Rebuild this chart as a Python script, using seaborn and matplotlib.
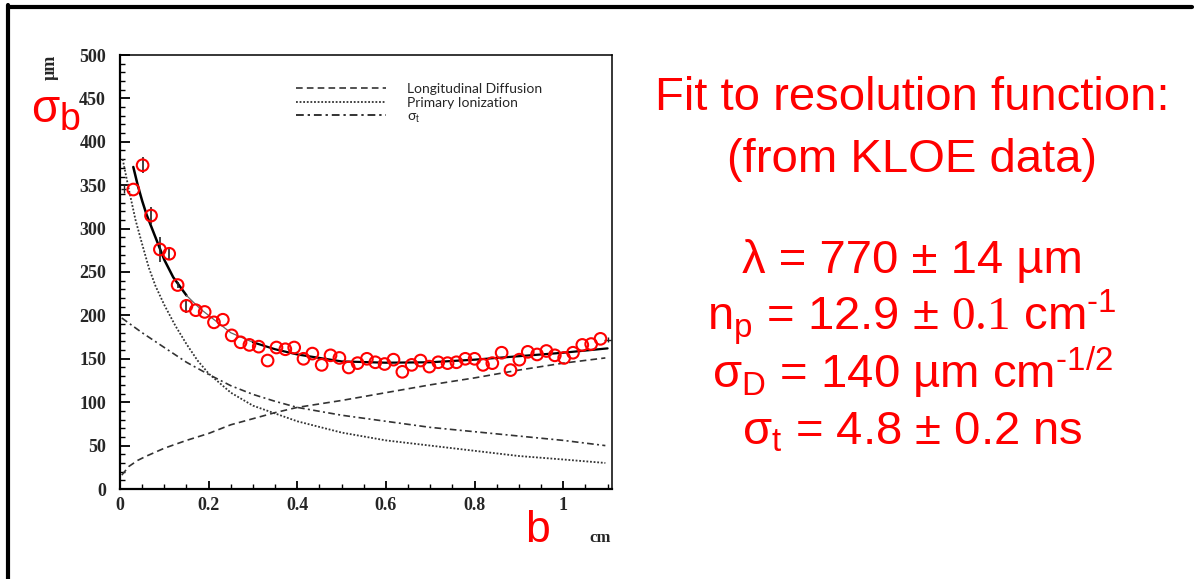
import matplotlib
matplotlib.use("Agg")
import matplotlib.pyplot as plt
from matplotlib.lines import Line2D
from matplotlib.ticker import MultipleLocator
import seaborn as sns

# measured resolution points (b in cm, sigma_b in um)
b_data = [0.030, 0.051, 0.070, 0.090, 0.111, 0.130, 0.150, 0.171, 0.191, 0.212,
          0.232, 0.252, 0.272, 0.292, 0.313, 0.333, 0.353, 0.373, 0.393, 0.414,
          0.434, 0.455, 0.475, 0.495, 0.516, 0.536, 0.557, 0.576, 0.597, 0.617,
          0.637, 0.658, 0.678, 0.698, 0.718, 0.739, 0.759, 0.779, 0.800, 0.819,
          0.840, 0.861, 0.881, 0.901, 0.920, 0.941, 0.962, 0.981, 1.002, 1.022,
          1.043, 1.063, 1.084]
sigma_data = [345, 373, 315, 276, 271, 235, 211, 206, 204, 192,
              195, 177, 169, 166, 164, 148, 163, 161, 163, 150,
              156, 143, 154, 151, 140, 145, 150, 146, 144, 149,
              135, 143, 148, 141, 146, 145, 146, 150, 150, 143,
              145, 157, 137, 149, 158, 155, 159, 154, 151, 157,
              166, 167, 173]
# only the first points have error bars longer than the marker
err_b = [0.051, 0.070, 0.090, 0.111, 0.130, 0.150]
err_sigma = [373, 315, 276, 271, 235, 211]
err_size = [9, 10, 14, 6, 4, 8]
# points sitting on the frame edges
edge_b = [0.008, 1.100]
edge_sigma = [346, 172]

# fitted resolution function
fit_b = [0.030, 0.040, 0.050, 0.060, 0.070, 0.080, 0.090, 0.100, 0.120, 0.150,
         0.180, 0.210, 0.250, 0.300, 0.350, 0.400, 0.500, 0.600, 0.700, 0.800,
         0.900, 1.000, 1.100]
fit_sigma = [371, 350, 332, 316, 303, 290, 277, 264, 244, 223,
             208, 196, 180, 169, 161, 155, 147, 145.5, 146, 149,
             153, 157, 162]

# longitudinal diffusion term
ld_b = [0.004, 0.020, 0.040, 0.060, 0.100, 0.150, 0.200, 0.250, 0.300, 0.350,
        0.400, 0.500, 0.600, 0.700, 0.800, 0.900, 1.000, 1.095]
ld_sigma = [16, 26, 33, 38, 47, 56, 64, 74, 81, 88,
            94, 102, 111, 120, 128, 137, 145, 151]

# primary ionization term
pi_b = [0.006, 0.020, 0.035, 0.050, 0.065, 0.080, 0.100, 0.125, 0.150, 0.175,
        0.200, 0.250, 0.300, 0.350, 0.400, 0.500, 0.600, 0.700, 0.800, 0.900,
        1.000, 1.095]
pi_sigma = [380, 345, 310, 282, 255, 234, 212, 188, 167, 148,
            133, 111, 96, 87, 78, 65, 56, 50, 44, 38,
            34, 30]

# sigma_t term
st_b = [0.004, 0.050, 0.100, 0.150, 0.200, 0.250, 0.300, 0.350, 0.400, 0.500,
        0.600, 0.700, 0.800, 0.900, 1.000, 1.095]
st_sigma = [197, 180, 163, 146, 132, 119, 109, 101, 94, 85,
            78, 71, 66, 61, 56, 50]

legend_labels = ["Longitudinal Diffusion", "Primary Ionization", "σ$_\\mathrm{t}$"]

fit_lines = [
    "Fit to resolution function:",
    "(from KLOE data)",
    "λ = 770 ± 14 µm",
    "n$_\\mathrm{p}$ = 12.9 ± $\\mathsf{0.1}$ cm$^{\\text{-1}}$",
    "σ$_\\mathrm{D}$ = 140 µm cm$^{\\text{-1/2}}$",
    "σ$_\\mathrm{t}$ = 4.8 ± 0.2 ns",
]

sns.set_style("white")
plt.rcParams["font.family"] = ["Liberation Sans", "DejaVu Sans"]
plt.rcParams["mathtext.fontset"] = "custom"
plt.rcParams["mathtext.rm"] = "Liberation Sans"
plt.rcParams["mathtext.it"] = "Liberation Sans:italic"
plt.rcParams["mathtext.sf"] = "Liberation Serif"

W, H = 1194, 579
fig = plt.figure(figsize=(W / 100, H / 100), dpi=100)
fig.patch.set_facecolor("white")
ax = fig.add_axes([120 / W, 1 - 489 / H, 492 / W, 434 / H])

dashed = (0, (4, 2.5))
dotted = (0, (1, 1))
dashdot = (0, (4, 2, 1.2, 2))

sns.lineplot(x=ld_b, y=ld_sigma, ax=ax, color="#333333", linewidth=1.2,
             linestyle=dashed)
sns.lineplot(x=pi_b, y=pi_sigma, ax=ax, color="#333333", linewidth=1.3,
             linestyle=dotted)
sns.lineplot(x=st_b, y=st_sigma, ax=ax, color="#333333", linewidth=1.2,
             linestyle=dashdot)

# fit: thick at both ends, thin grey in the middle
sns.lineplot(x=fit_b[:10], y=fit_sigma[:10], ax=ax, color="black", linewidth=1.8)
sns.lineplot(x=fit_b[9:14], y=fit_sigma[9:14], ax=ax, color="#666666", linewidth=0.9)
sns.lineplot(x=fit_b[13:], y=fit_sigma[13:], ax=ax, color="black", linewidth=1.6)

ax.errorbar(err_b, err_sigma, yerr=err_size, fmt="none", ecolor="#222222",
            elinewidth=1.2, capsize=0)
ax.errorbar(edge_b, edge_sigma, yerr=[5, 3], xerr=[0.006, 0.008], fmt="none",
            ecolor="#222222", elinewidth=1.0, capsize=0)
sns.scatterplot(x=b_data, y=sigma_data, ax=ax, marker="o", s=70,
                facecolors="none", edgecolor="red", linewidth=1.5, zorder=5)

ax.set_xlim(0, 1.11)
ax.set_ylim(0, 500)
ax.xaxis.set_major_locator(MultipleLocator(0.2))
ax.xaxis.set_minor_locator(MultipleLocator(0.05))
ax.yaxis.set_major_locator(MultipleLocator(50))
ax.yaxis.set_minor_locator(MultipleLocator(10))
ax.xaxis.set_major_formatter(plt.FuncFormatter(lambda v, p: f"{v:g}"))
ax.tick_params(which="both", direction="in", left=True, bottom=True,
               top=False, right=False, color="black")
ax.tick_params(which="major", axis="y", length=7, width=1.3, pad=10)
ax.tick_params(which="minor", axis="y", length=3.8, width=1.0)
ax.tick_params(which="major", axis="x", length=6, width=1.3, pad=6)
ax.tick_params(which="minor", axis="x", length=3.5, width=1.0)
for lab in ax.get_xticklabels() + ax.get_yticklabels():
    lab.set_fontfamily("Liberation Serif")
    lab.set_fontweight("bold")
    lab.set_fontsize(13)
for side, lw in [("left", 1.6), ("bottom", 1.6), ("top", 1.1), ("right", 1.1)]:
    ax.spines[side].set_visible(True)
    ax.spines[side].set_color("black")
    ax.spines[side].set_linewidth(lw)
ax.set_xlabel("")
ax.set_ylabel("")

handles = [Line2D([], [], color="#333333", linewidth=1.2, linestyle=dashed),
           Line2D([], [], color="#333333", linewidth=1.3, linestyle=dotted),
           Line2D([], [], color="#333333", linewidth=1.4, linestyle=dashdot)]
ax.legend(handles, legend_labels, loc="upper left",
          bbox_to_anchor=((296 - 120) / 492, (489 - 83) / 434),
          frameon=False, borderpad=0, borderaxespad=0, handlelength=6.5,
          handletextpad=1.5, labelspacing=0.12,
          prop={"family": "Lato", "size": 10})

# axis unit labels and red annotations
fig.text(50 / W, 1 - 67 / H, "µm", rotation=90, ha="center", va="center",
         fontsize=13, fontweight="bold", family="Liberation Serif")
fig.text(600 / W, 1 - 538 / H, "cm", ha="center", va="center",
         fontsize=12, fontweight="bold", family="Liberation Serif")
fig.text(45 / W, 1 - 110 / H, "σ", ha="center", va="center",
         fontsize=33, color="red")
fig.text(70 / W, 1 - 120 / H, "b", ha="center", va="center",
         fontsize=27, color="red")
fig.text(537 / W, 1 - 530 / H, "b", ha="center", va="center",
         fontsize=32, color="red")

baselines = [110, 172, 273, 330, 388, 445]
for txt, yb in zip(fit_lines, baselines):
    fig.text(912 / W, 1 - yb / H, txt, ha="center", va="baseline",
             fontsize=34, color="red")

# slide frame: top and left edges
fig.add_artist(Line2D([8 / W, 1192 / W], [1 - 7 / H, 1 - 7 / H],
                      color="black", linewidth=3, transform=fig.transFigure))
fig.add_artist(Line2D([8 / W, 8 / W], [1 - 5 / H, 0], color="black",
                      linewidth=3, transform=fig.transFigure))

fig.savefig("out.png", dpi=100, facecolor="white")
